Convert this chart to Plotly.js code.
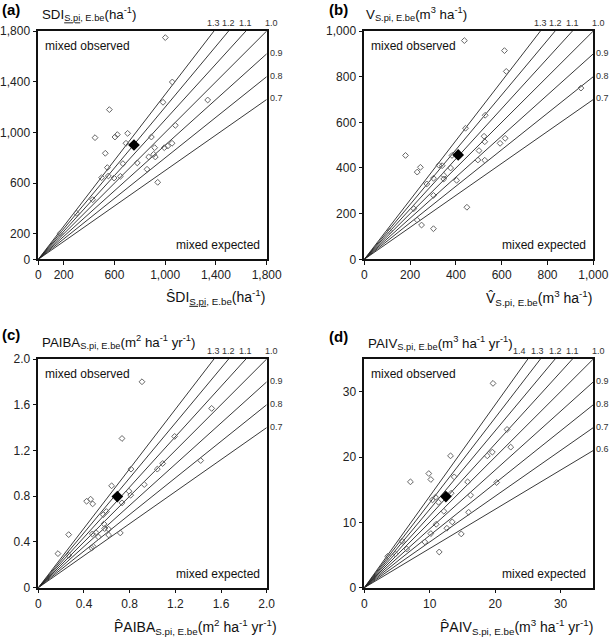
<!DOCTYPE html>
<html>
<head>
<meta charset="utf-8">
<script src="https://cdn.plot.ly/plotly-3.0.1.min.js"></script>
<style>html,body{margin:0;padding:0;background:#fff}#chart{width:609px;height:638px}</style>
</head>
<body>
<div id="chart"></div>
<script>
// ---------- data ----------
// (a) SDI (ha-1): expected (x) vs observed (y)
const sdiExpected = [1001,1056,983,1335,560,447,604,623,704,691,891,1080,528,917,993,1020,1054,544,667,780,870,909,922,857,499,552,597,647,941,428,302,173];
const sdiObserved = [1748,1398,1238,1256,1180,959,964,983,993,915,964,1056,836,880,880,893,915,723,754,760,807,828,807,710,644,657,641,654,607,470,363,205];
const sdiMean = [754, 901];

// (b) V (m3 ha-1)
const volExpected = [437,612,620,946,528,442,523,526,615,593,180,383,501,496,526,245,231,326,340,377,347,347,302,403,273,302,448,216,231,250,302,111];
const volObserved = [958,914,823,750,631,574,539,515,530,508,455,455,476,435,434,403,382,412,410,400,368,352,355,346,330,280,228,222,172,150,134,124];
const volMean = [410, 457];

// (c) PAIBA (m2 ha-1 yr-1)
const paibaExpected = [0.908,1.518,0.733,1.194,1.422,0.812,1.042,1.089,0.642,0.928,0.794,0.809,0.423,0.458,0.476,0.733,0.569,0.596,0.266,0.575,0.581,0.616,0.473,0.505,0.526,0.616,0.718,0.467,0.482,0.172,0.266];
const paibaObserved = [1.801,1.568,1.305,1.323,1.112,1.037,1.037,1.086,0.891,0.902,0.844,0.809,0.756,0.774,0.733,0.742,0.639,0.666,0.464,0.558,0.517,0.511,0.470,0.482,0.444,0.461,0.479,0.347,0.359,0.298,0.283];
const paibaMean = [0.692, 0.797];

// (d) PAIV (m3 ha-1 yr-1)
const paivExpected = [19.67,21.82,22.38,13.18,18.80,19.57,9.86,10.17,7.05,13.74,15.79,20.23,10.88,10.42,11.34,13.28,16.25,12.16,15.94,13.44,10.99,12.62,10.17,14.82,9.25,5.77,6.49,4.75,3.58,11.45];
const paivObserved = [31.27,24.22,21.51,20.18,20.18,20.75,17.47,16.56,16.20,16.96,16.20,16.10,13.85,13.44,13.08,14.46,14.15,11.70,11.55,10.07,9.71,9.10,8.28,8.23,7.00,7.10,5.93,5.16,4.80,5.47];
const paivMean = [12.47, 13.95];

// reference ratio lines (observed / expected)
const ratiosA = [0.7,0.8,0.9,1.0,1.1,1.2,1.3];
const ratiosB = [0.7,0.8,0.9,1.0,1.1,1.2,1.3];
const ratiosC = [0.7,0.8,0.9,1.0,1.1,1.2,1.3];
const ratiosD = [0.6,0.7,0.8,0.9,1.0,1.1,1.2,1.3,1.4];

// axis ranges and ticks
const rangeA = 1800, rangeB = 1000, rangeC = 2.0, rangeD = 35;
const ticksA = [0,200,600,1000,1400,1800];
const tickTextA = ['0','200','600','1,000','1,400','1,800'];
const ticksB = [0,200,400,600,800,1000];
const tickTextB = ['0','200','400','600','800','1,000'];
const ticksC = [0,0.4,0.8,1.2,1.6,2.0];
const tickTextC = ['0','0.4','0.8','1.2','1.6','2.0'];
const ticksD = [0,10,20,30];
const tickTextD = ['0','10','20','30'];

// ---------- build ----------
const FONT = '"Liberation Sans", Arial, Helvetica, sans-serif';
const W = 609, H = 638;
const traces = [];
const annotations = [];

const panels = [
  {ax:'', ex:sdiExpected, ob:sdiObserved, mean:sdiMean, ratios:ratiosA, R:rangeA, tv:ticksA, tt:tickTextA,
   dx:[38.3,266.7], dy:[31,259.3], labelShift:{},
   letter:'(a)', lx:0, ly:9,
   ytitle:"SDI<sub><span style='text-decoration:underline'>S.pi</span>, E.be</sub>(ha<sup>-1</sup>)", ytx:40, yty:14,
   xtitle:"\u015CDI<sub><span style='text-decoration:underline'>S.pi</span>, E.be</sub>(ha<sup>-1</sup>)", xtx:267, xty:297},
  {ax:'2', ex:volExpected, ob:volObserved, mean:volMean, ratios:ratiosB, R:rangeB, tv:ticksB, tt:tickTextB,
   dx:[364.3,593.3], dy:[31,259.3], labelShift:{},
   letter:'(b)', lx:327, ly:9,
   ytitle:"V<sub>S.pi, E.be</sub>(m<sup>3</sup> ha<sup>-1</sup>)", ytx:364, yty:14,
   xtitle:"V\u0302<sub>S.pi, E.be</sub>(m<sup>3</sup> ha<sup>-1</sup>)", xtx:594, xty:298},
  {ax:'3', ex:paibaExpected, ob:paibaObserved, mean:paibaMean, ratios:ratiosC, R:rangeC, tv:ticksC, tt:tickTextC,
   dx:[38.3,266.7], dy:[359,587.7], labelShift:{},
   letter:'(c)', lx:0, ly:334,
   ytitle:"PAIBA<sub>S.pi, E.be</sub>(m<sup>2</sup> ha<sup>-1</sup> yr<sup>-1</sup>)", ytx:40, yty:342,
   xtitle:"P\u0302AIBA<sub>S.pi, E.be</sub>(m<sup>2</sup> ha<sup>-1</sup> yr<sup>-1</sup>)", xtx:279, xty:627},
  {ax:'4', ex:paivExpected, ob:paivObserved, mean:paivMean, ratios:ratiosD, R:rangeD, tv:ticksD, tt:tickTextD,
   dx:[364.3,593.3], dy:[359,587.7], labelShift:{'1.4':-8, '1.3':-3},
   letter:'(d)', lx:327, ly:336,
   ytitle:"PAIV<sub>S.pi, E.be</sub>(m<sup>3</sup> ha<sup>-1</sup> yr<sup>-1</sup>)", ytx:366, yty:343,
   xtitle:"P\u0302AIV<sub>S.pi, E.be</sub>(m<sup>3</sup> ha<sup>-1</sup> yr<sup>-1</sup>)", xtx:595, xty:627}
];

const layout = {
  width: W, height: H,
  margin: {l:0, r:0, t:0, b:0},
  paper_bgcolor: '#fff', plot_bgcolor: '#fff',
  showlegend: false,
  font: {family: FONT, size: 12, color: '#222'},
  annotations: annotations
};

panels.forEach(p => {
  const xa = 'x' + p.ax, ya = 'y' + p.ax;
  // ratio lines
  p.ratios.forEach(r => {
    const xe = r >= 1 ? p.R / r : p.R;
    const ye = r >= 1 ? p.R : p.R * r;
    traces.push({type:'scatter', mode:'lines', x:[0, xe], y:[0, ye], xaxis:xa, yaxis:ya,
      line:{color:'#222', width:0.9}, hoverinfo:'skip'});
    const lbl = r.toFixed(1);
    if (r >= 1) {
      annotations.push({xref:xa, yref:ya, x:xe, y:p.R, text:lbl, showarrow:false,
        xanchor:'center', yanchor:'bottom', yshift:1,
        xshift: r === 1 ? 5 : (p.labelShift[lbl] || 0),
        font:{family:FONT, size:9, color:'#333'}});
    } else {
      annotations.push({xref:xa, yref:ya, x:p.R, y:ye, text:lbl, showarrow:false,
        xanchor:'left', yanchor:'middle', xshift:1, yshift:1,
        font:{family:FONT, size:9, color:'#333'}});
    }
  });
  // points
  traces.push({type:'scatter', mode:'markers', x:p.ex, y:p.ob, xaxis:xa, yaxis:ya,
    marker:{symbol:'diamond-open', size:4.5, color:'#666', line:{width:1, color:'#666'}}, cliponaxis:false});
  traces.push({type:'scatter', mode:'markers', x:[p.mean[0]], y:[p.mean[1]], xaxis:xa, yaxis:ya,
    marker:{symbol:'diamond', size:9, color:'#000'}});

  const axCommon = {
    range:[0, p.R], showgrid:false, zeroline:false, showline:true, mirror:true,
    linecolor:'#111', linewidth:1.5, ticks:'outside', ticklen:4, tickwidth:1, tickcolor:'#111',
    tickmode:'array', tickvals:p.tv, ticktext:p.tt, fixedrange:true,
    tickfont:{family:FONT, size:12, color:'#222'}
  };
  layout['xaxis' + p.ax] = Object.assign({}, axCommon, {
    domain:[p.dx[0]/W, p.dx[1]/W], anchor: ya
  });
  layout['yaxis' + p.ax] = Object.assign({}, axCommon, {
    domain:[1 - p.dy[1]/H, 1 - p.dy[0]/H], anchor: xa
  });

  // texts
  annotations.push({xref:'paper', yref:'paper', x:p.lx/W, y:1 - p.ly/H, text:'<b>' + p.letter + '</b>',
    showarrow:false, xanchor:'left', yanchor:'middle', font:{family:FONT, size:15, color:'#000'}});
  annotations.push({xref:'paper', yref:'paper', x:p.ytx/W, y:1 - p.yty/H, text:p.ytitle,
    showarrow:false, xanchor:'left', yanchor:'middle', font:{family:FONT, size:13.3, color:'#111'}});
  annotations.push({xref:'paper', yref:'paper', x:p.xtx/W, y:1 - p.xty/H, text:p.xtitle,
    showarrow:false, xanchor:'right', yanchor:'middle', font:{family:FONT, size:14, color:'#111'}});
  annotations.push({xref:xa + ' domain', yref:ya + ' domain', x:0, y:1, text:'mixed observed',
    showarrow:false, xanchor:'left', yanchor:'top', xshift:5, yshift:-6, font:{family:FONT, size:12, color:'#111'}});
  annotations.push({xref:xa + ' domain', yref:ya + ' domain', x:1, y:0, text:'mixed expected',
    showarrow:false, xanchor:'right', yanchor:'bottom', xshift:-5, yshift:5, font:{family:FONT, size:12, color:'#111'}});
});

Plotly.newPlot('chart', traces, layout, {displayModeBar:false});
</script>
</body>
</html>
